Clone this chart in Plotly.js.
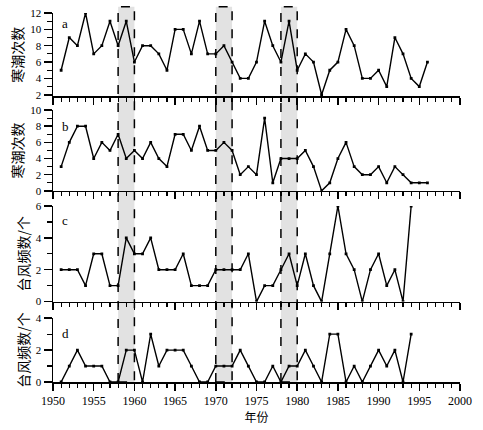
<!DOCTYPE html>
<html><head><meta charset="utf-8">
<script src="https://cdn.plot.ly/plotly-3.0.1.min.js"></script>
<style>html,body{margin:0;padding:0;background:#fff}#chart{width:483px;height:430px}</style>
</head><body><div id="chart"></div>
<script>
const yearsA = [1951,1952,1953,1954,1955,1956,1957,1958,1959,1960,1961,1962,1963,1964,1965,1966,1967,1968,1969,1970,1971,1972,1973,1974,1975,1976,1977,1978,1979,1980,1981,1982,1983,1984,1985,1986,1987,1988,1989,1990,1991,1992,1993,1994,1995,1996];
const coldA = [5,9,8,12,7,8,11,8,11,6,8,8,7,5,10,10,7,11,7,7,8,6,4,4,6,11,8,6,11,5,7,6,2,5,6,10,8,4,4,5,3,9,7,4,3,6];
const coldB = [3,6,8,8,4,6,5,7,4,5,4,6,4,3,7,7,5,8,5,5,6,5,2,3,2,9,1,4,4,4,5,3,0,1,4,6,3,2,2,3,1,3,2,1,1,1];
const yearsT = [1951,1952,1953,1954,1955,1956,1957,1958,1959,1960,1961,1962,1963,1964,1965,1966,1967,1968,1969,1970,1971,1972,1973,1974,1975,1976,1977,1978,1979,1980,1981,1982,1983,1984,1985,1986,1987,1988,1989,1990,1991,1992,1993,1994];
const typhC = [2,2,2,1,3,3,1,1,4,3,3,4,2,2,2,3,1,1,1,2,2,2,2,3,0,1,1,2,3,1,3,1,0,3,6,3,2,0,2,3,1,2,0,6];
const typhD = [0,1,2,1,1,1,0,0,2,2,0,3,1,2,2,2,1,0,0,1,1,1,2,1,0,0,1,0,1,1,2,1,0,3,3,0,1,0,1,2,1,2,0,3];
const panelLetters = ['a','b','c','d'];
const yTitles = ['寒潮次数','寒潮次数','台风频数/个','台风频数/个'];
const shadedPeriods = [[1958,1960],[1970,1972],[1978,1980]];
const xTickVals = [1950,1955,1960,1965,1970,1975,1980,1985,1990,1995,2000];

const serif = 'Liberation Serif, Times New Roman, serif';
const cjk = 'Noto Sans CJK SC, sans-serif';

const series = [[yearsA,coldA],[yearsA,coldB],[yearsT,typhC],[yearsT,typhD]];
const traces = series.map((s,i)=>({
  x:s[0], y:s[1], type:'scatter', mode:'lines+markers',
  xaxis: i===0?'x':'x'+(i+1), yaxis: i===0?'y':'y'+(i+1),
  line:{color:'#000',width:1.4}, marker:{color:'#000',size:2.8,symbol:'square'},
  hoverinfo:'skip'
}));

const domains = [[0.774,1],[0.518,0.737],[0.218,0.477],[0,0.173]];
const yRanges = [[1.8,12],[0,10],[0,6],[0,4]];
const yTicks = [[2,4,6,8,10,12],[0,2,4,6,8,10],[0,2,4,6],[0,2,4]];

const layout = {
  width:483, height:430,
  margin:{l:53,r:23,t:13,b:48},
  paper_bgcolor:'#fff', plot_bgcolor:'rgba(0,0,0,0)',
  showlegend:false,
  font:{family:serif,color:'#000',size:11},
  shapes:[], annotations:[]
};

for(let i=0;i<4;i++){
  const xn = i===0?'xaxis':'xaxis'+(i+1);
  const yn = i===0?'yaxis':'yaxis'+(i+1);
  const ya = i===0?'y':'y'+(i+1);
  const xa = i===0?'x':'x'+(i+1);
  layout[xn] = {
    range:[1950,2000], anchor:ya, showgrid:false, zeroline:false,
    showline:true, linecolor:'#000', linewidth:1.5,
    ticks:'outside', ticklen:7, tickwidth:1.5, tickcolor:'#000',
    tickvals:xTickVals, ticktext:xTickVals.map(String),
    showticklabels: i===3,
    tickfont:{family:serif,size:12,color:'#000'},
    minor:{dtick:1, tick0:1950, ticks:'outside', ticklen:4, tickwidth:1.2, tickcolor:'#000'},
    fixedrange:true
  };
  if(i>0) layout[xn].matches = 'x';
  if(i===3) layout[xn].title = {text:'年份', font:{family:cjk,size:12,color:'#000'}, standoff:2};
  layout[yn] = {
    domain:domains[i], range:yRanges[i], anchor:xa, showgrid:false, zeroline:false,
    showline:true, linecolor:'#000', linewidth:1.5,
    ticks:'outside', ticklen:8, tickwidth:1.5, tickcolor:'#000',
    tickvals:yTicks[i], ticktext:yTicks[i].map(String),
    tickfont:{family:serif,size:11,color:'#000'},
    minor:{dtick:1, tick0:0, ticks:'outside', ticklen:5, tickwidth:1.2, tickcolor:'#000'},
    title:{text:yTitles[i], font:{family:cjk,size:14,color:'#000'}, standoff:3},
    fixedrange:true
  };
  layout.annotations.push({
    text:panelLetters[i], xref:'paper', yref:yn==='yaxis'?'y domain':ya+' domain',
    x:0.03, y:[0.88,0.80,0.85,0.76][i], xanchor:'center', yanchor:'middle',
    showarrow:false, font:{family:serif,size:13,color:'#000'}
  });
}

shadedPeriods.forEach(p=>{
  layout.shapes.push({
    type:'rect', xref:'x4', yref:'paper', x0:p[0], x1:p[1], y0:0, y1:1.017,
    fillcolor:'#e2e2e2', line:{color:'#000',width:1.5,dash:'dash'}, layer:'below'
  });
});

Plotly.newPlot('chart', traces, layout, {staticPlot:true, displayModeBar:false});
</script></body></html>
